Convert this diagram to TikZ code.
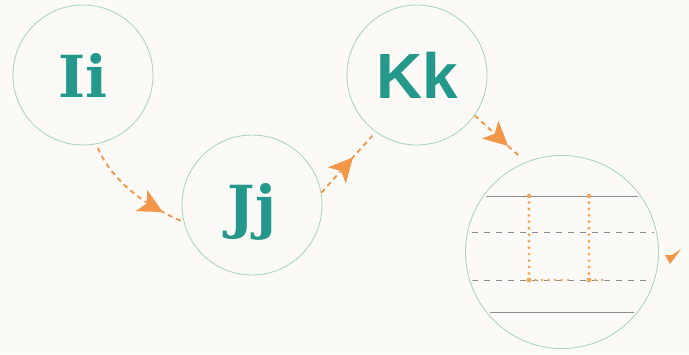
\documentclass[tikz,border=0pt]{standalone}
\usepackage{fontspec}
\newfontfamily\slabfont{DejaVu Serif}
\newfontfamily\grotfont{Liberation Sans}
\usetikzlibrary{arrows.meta,decorations.markings,calc}
\definecolor{bg}{RGB}{251,250,247}
\definecolor{ring}{RGB}{172,214,192}
\definecolor{letter}{RGB}{36,152,138}
\definecolor{arrowc}{RGB}{244,150,72}
\definecolor{guidec}{RGB}{140,140,140}
\definecolor{dotc}{RGB}{238,166,84}
\tikzset{
  circ/.style={draw=ring, line width=0.9pt, circle, inner sep=0pt, text=letter, text depth=0pt},
  serifletters/.style={font=\slabfont\bfseries\fontsize{58}{58}\selectfont},
  sansletters/.style={font=\grotfont\bfseries\fontsize{64}{64}\selectfont},
  flow/.style={draw=arrowc, line width=1.8pt, dash pattern=on 5pt off 4pt,
    postaction={decorate},
    decoration={markings, mark=at position #1 with {\arrow[arrowc]{Stealth[length=24pt,width=24pt,inset=6pt]}}}},
  guide/.style={draw=guidec, line width=0.6pt},
  guidedash/.style={draw=guidec, line width=0.6pt, dash pattern=on 6pt off 6pt},
  dotmark/.style={fill=dotc}
}
\begin{document}
\begin{tikzpicture}[x=1pt,y=-1pt]
\fill[bg] (0,0) rectangle (689,354);
\useasboundingbox (0,0) rectangle (689,354);

\node[circ, serifletters, minimum size=140pt] (I) at (83,75) {Ii};
\node[circ, serifletters, minimum size=140pt] (J) at (252,205) {Jj};
\node[circ, sansletters, minimum size=140pt] (K) at (417,75) {Kk};
\node[circ, minimum size=193pt] (L) at (562,252) {};

% guide lines inside the big circle
\begin{scope}
  \clip (L.center) circle[radius=94pt];
  \draw[guide] (450,196) -- (680,196);
  \draw[guide] (450,312) -- (680,312);
  \draw[guidedash] (472,232) -- (660,232);
  \draw[guidedash] (472,280) -- (660,280);
\end{scope}

% dotted tracing strokes
\foreach \t in {0,...,13} {
  \fill[dotmark] (529,{196+\t*6.46}) circle[radius=1.6pt];
  \fill[dotmark] (589,{196+\t*6.46}) circle[radius=1.6pt];
}
\foreach \t in {1,...,6} {
  \fill[dotmark] ({529+\t*6.5},280) circle[radius=1.4pt];
}
\foreach \t in {1,2} {
  \fill[dotmark] ({589+\t*6.5},280) circle[radius=1.4pt];
}
\fill[dotmark] (529,196) circle[radius=2.2pt];
\fill[dotmark] (589,196) circle[radius=2.2pt];
\fill[dotmark] (529,280) circle[radius=2.4pt];
\fill[dotmark] (589,280) circle[radius=2.4pt];

% connectors
\draw[flow=0.8] ($(I.-81)!5pt!(J.194)$) .. controls (108,172) and (132,200) .. (J.194);
\draw[flow=0.62] (J.10) -- ($(K.234)!5pt!(J.10)$);
\draw[flow=0.74] (K.-35) -- ($(L.112)!8pt!(K.-35)$);

% lone arrowhead at right
\fill[arrowc] (665,255) -- (670,264) -- (681,249) -- (672,255) -- cycle;
\end{tikzpicture}
\end{document}
